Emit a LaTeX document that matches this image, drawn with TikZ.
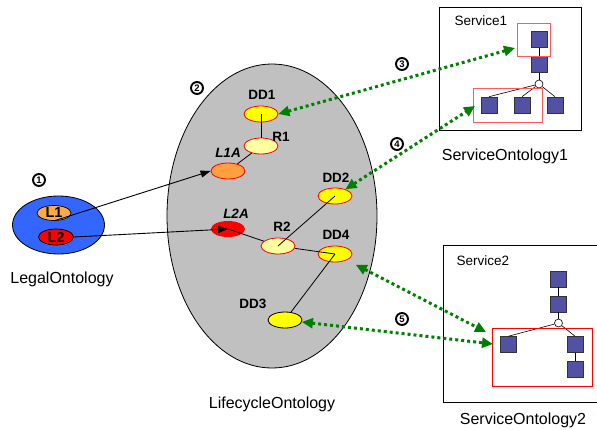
\documentclass[tikz,border=0pt]{standalone}
\usepackage{fontspec}
\setmainfont{Liberation Sans}
\usetikzlibrary{shapes.geometric,arrows.meta}
\definecolor{legalblue}{RGB}{51,102,255}
\definecolor{lorange}{RGB}{255,170,70}
\definecolor{laorange}{RGB}{255,160,64}
\definecolor{lifegray}{RGB}{192,192,192}
\definecolor{ddyellow}{RGB}{255,255,0}
\definecolor{ryellow}{RGB}{255,255,160}
\definecolor{sqblue}{RGB}{82,82,164}
\definecolor{dgreen}{RGB}{0,128,0}
\definecolor{boxred}{RGB}{255,90,90}
\begin{document}
\begin{tikzpicture}[x=1pt,y=-1pt,
  ell/.style={ellipse, inner sep=0pt, minimum width=34pt, minimum height=16pt},
  dd/.style={ell, draw=red, fill=ddyellow, line width=0.8pt},
  rr/.style={ell, draw=red, fill=ryellow, line width=0.8pt},
  lbl/.style={font=\bfseries\fontsize{13.5}{14}\selectfont},
  title/.style={font=\fontsize{16}{17}\selectfont},
  svclbl/.style={font=\fontsize{13.5}{14}\selectfont, anchor=west},
  num/.style={circle, draw, line width=1.9pt, inner sep=0pt, minimum size=12pt, font=\bfseries\fontsize{9.5}{10}\selectfont},
  conn/.style={line width=0.8pt},
  barrow/.style={line width=0.9pt, -{Triangle[length=10pt,width=7pt]}},
  garrow/.style={dgreen, line width=3pt, dash pattern=on 3pt off 3pt,
     {Triangle[length=11pt,width=10pt]}-{Triangle[length=11pt,width=10pt]}},
  sq/.style={rectangle, draw=black!80, fill=sqblue, minimum size=16pt, inner sep=0pt, line width=0.6pt},
  knot/.style={circle, draw, fill=white, minimum size=8pt, inner sep=0pt, line width=0.6pt},
  outerbox/.style={rectangle, draw, line width=0.8pt, inner sep=0pt},
  redbox/.style={rectangle, draw=#1, line width=0.9pt, inner sep=0pt}
]
\useasboundingbox (0,0) rectangle (597,429);
\clip (0,0) rectangle (597,429);

% Legal ontology
\node[ellipse, draw, fill=legalblue, line width=0.8pt, minimum width=92pt, minimum height=58pt, inner sep=0pt] (legal) at (58.5,225) {};
\node[ell, draw, fill=lorange, line width=0.7pt, minimum width=34pt, minimum height=15pt, font=\bfseries\fontsize{14.5}{15}\selectfont] (L1) at (54,213) {L1};
\node[ell, draw, fill=red, line width=0.7pt, minimum width=35pt, minimum height=16pt, font=\bfseries\fontsize{14.5}{15}\selectfont] (L2) at (56,237) {L2};
\node[title] (legalt) at (62,279) {LegalOntology};
\node[num] (n1) at (39,180) {1};

% Lifecycle ontology
\node[ellipse, draw, fill=lifegray, line width=0.8pt, minimum width=210pt, minimum height=304pt, inner sep=0pt] (life) at (272,216) {};
\node[title] (lifet) at (272,404) {LifecycleOntology};
\node[num] (n2) at (197,88) {2};

\node[dd] (DD1) at (261,114) {};
\node[rr] (R1) at (261,146) {};
\node[ell, draw=red, fill=laorange, line width=0.8pt] (L1A) at (228,171) {};
\node[ell, fill=red] (L2A) at (228,229) {};
\node[dd] (DD2) at (335,196) {};
\node[rr] (R2) at (278,246) {};
\node[dd] (DD4) at (335,254) {};
\node[ell, draw, fill=ddyellow, line width=0.8pt] (DD3) at (285,320) {};

\node[lbl] (tDD1) at (262,95) {DD1};
\node[lbl] (tR1) at (281,137) {R1};
\node[lbl, font=\bfseries\itshape\fontsize{13.5}{14}\selectfont] (tL1A) at (228,153) {L1A};
\node[lbl, font=\bfseries\itshape\fontsize{13.5}{14}\selectfont] (tL2A) at (236,214) {L2A};
\node[lbl] (tDD2) at (336,178) {DD2};
\node[lbl] (tR2) at (282,227) {R2};
\node[lbl] (tDD4) at (336,235) {DD4};
\node[lbl] (tDD3) at (253,304) {DD3};

\draw[conn] (DD1.center) -- (R1);
\draw[conn] (R1) -- (L1A);
\draw[conn] (L2A.center) -- (R2);
\draw[conn] (DD2.center) -- (R2.center);
\draw[conn] (R2) -- (DD4.center);
\draw[conn] (DD4.center) -- (DD3);

% black arrows
\draw[barrow] (L1.south) -- (L1A.west);
\draw[barrow] (L2.east) -- (L2A.center);

% Service 1
\node[outerbox, minimum width=142pt, minimum height=123pt] (svc1) at (510,68.5) {};
\node[svclbl] (svc1t) at (451,21) {Service1};
\node[title] (svc1o) at (505,156) {ServiceOntology1};
\node[sq] (s1a) at (539,39.5) {};
\node[sq] (s1b) at (539,64.5) {};
\node[sq] (s1d) at (489,105) {};
\node[sq] (s1e) at (522,105) {};
\node[sq] (s1f) at (555,105) {};
\draw[conn, line width=0.6pt] (s1a) -- (s1b);
\node[knot] (s1c) at (539,84) {};
\draw[conn, line width=0.6pt] (s1b) -- (s1c);
\draw[conn, line width=0.6pt] (s1c) -- (s1d.north);
\draw[conn, line width=0.6pt] (s1c) -- (s1e.north);
\draw[conn, line width=0.6pt] (s1c) -- (s1f.north);
\node[redbox=boxred, minimum width=33pt, minimum height=33pt] (rb1) at (533.5,39.5) {};
\node[redbox=boxred, minimum width=69pt, minimum height=34pt] (rb2) at (507.5,105) {};

% Service 2
\node[outerbox, minimum width=162pt, minimum height=157pt] (svc2) at (524,323.5) {};
\node[svclbl] (svc2t) at (453,261) {Service2};
\node[title] (svc2o) at (523,420) {ServiceOntology2};
\node[sq] (s2a) at (558.5,279) {};
\node[sq] (s2b) at (558.5,304) {};
\node[sq] (s2d) at (508.5,344.5) {};
\node[sq] (s2e) at (575,344.5) {};
\node[sq] (s2f) at (575,369.5) {};
\node[knot] (s2c) at (558.5,323) {};
\draw[conn, line width=0.6pt] (s2a) -- (s2b);
\draw[conn, line width=0.6pt] (s2b) -- (s2c);
\draw[conn, line width=0.6pt] (s2c) -- (s2d.north);
\draw[conn, line width=0.6pt] (s2c) -- (s2e.north);
\draw[conn, line width=0.6pt] (s2e) -- (s2f);
\node[redbox=red, minimum width=100pt, minimum height=58pt] (rb3) at (542,357) {};

% green arrows
\coordinate (c3) at (515,48);
\coordinate (c4) at (475,106);
\coordinate (c5) at (486,332);
\coordinate (c6) at (493,344);
\draw[garrow] (DD1.east) -- (c3);
\draw[garrow] (DD2) -- (c4);
\draw[garrow, shorten <=10pt] (DD4) -- (c5);
\draw[garrow] (DD3) -- (c6);

\node[num] (n3) at (402,64) {3};
\node[num] (n4) at (397,144) {4};
\node[num] (n5) at (402,319) {5};
\end{tikzpicture}
\end{document}
